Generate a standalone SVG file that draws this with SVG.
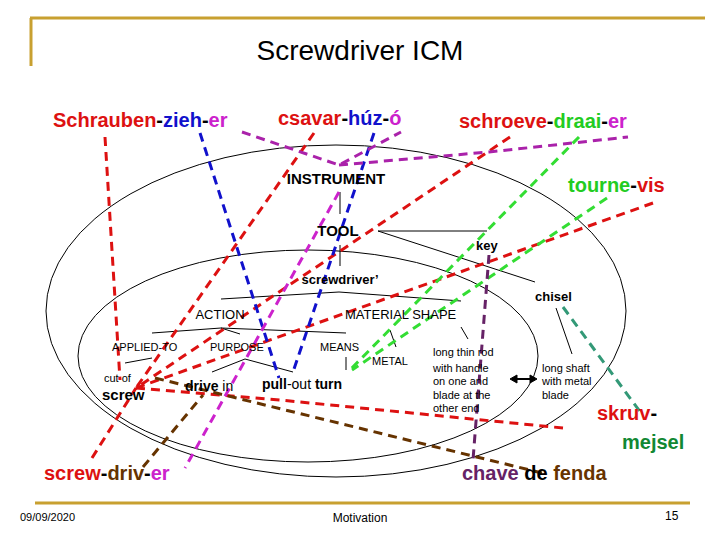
<svg xmlns="http://www.w3.org/2000/svg" width="720" height="540" viewBox="0 0 720 540">
<style>
text{font-family:"Liberation Sans",Arial,sans-serif}
.w{font-size:20px;font-weight:bold}
.n{font-size:13px;fill:#000}
.b{font-size:15px;font-weight:bold;fill:#000}
.s{font-size:11px;fill:#000}
.t{stroke:#000;stroke-width:1;fill:none}
.d{fill:none;stroke-width:3;stroke-dasharray:9 6}
.R{fill:#dd1111}.B{fill:#1111cc}.M{fill:#cc22cc}.G{fill:#22cc22}.DG{fill:#118833}.P{fill:#662266}.BR{fill:#663300}.K{fill:#000}
</style>
<rect width="720" height="540" fill="#fff"/>
<g id="frame" stroke="#c8a030" stroke-width="3">
<line x1="30" y1="18" x2="705" y2="18"/><line x1="31" y1="18" x2="31" y2="66"/><line x1="35" y1="503" x2="690" y2="503"/>
</g>
<text x="360" y="60" font-size="28" text-anchor="middle">Screwdriver ICM</text>
<g id="ellipses" class="t"><ellipse cx="336" cy="311" rx="290" ry="166"/><ellipse cx="308" cy="356" rx="230" ry="106"/></g>
<g id="tree" class="t">
<line x1="340" y1="192" x2="340" y2="214"/><line x1="378" y1="231" x2="487" y2="231"/><line x1="378" y1="231" x2="535" y2="282"/>
<line x1="340" y1="245" x2="340" y2="266"/>
<polyline points="221,299 339,292 461,301"/>
<polyline points="152,333 221,328 346,333"/><line x1="221" y1="328" x2="240" y2="334"/>
<line x1="390" y1="330" x2="396" y2="347"/><line x1="461" y1="327" x2="468" y2="339"/>
<line x1="125" y1="363" x2="152" y2="358"/>
<polyline points="212,372 245,359 293,372"/>
<line x1="346" y1="357" x2="346" y2="370"/>
<line x1="556" y1="308" x2="572" y2="354"/>
<line x1="514" y1="379" x2="533" y2="379" stroke-width="2"/>
<polygon points="510,379 517,375 517,383" fill="#000"/><polygon points="537,379 530,375 530,383" fill="#000"/>
</g>
<g id="connectors" class="d">
<polyline stroke="#dd1111" points="105,137 120,380"/>
<line stroke="#dd1111" x1="92" y1="458" x2="136" y2="388"/>
<line stroke="#dd1111" x1="314" y1="133" x2="136" y2="388"/>
<line stroke="#dd1111" x1="510" y1="137" x2="136" y2="388"/>
<line stroke="#dd1111" x1="653" y1="203" x2="136" y2="388"/>
<polyline stroke="#dd1111" points="136,388 280,400 563,428"/>
<line stroke="#1111cc" x1="200" y1="133" x2="279" y2="378"/>
<line stroke="#1111cc" x1="374" y1="133" x2="293" y2="372"/>
<polyline stroke="#aa22aa" points="242,132 339,165 401,132"/>
<polyline stroke="#aa22aa" points="339,165 489,152 628,137"/>
<line stroke="#cc22cc" x1="339" y1="192" x2="185" y2="468"/>
<line stroke="#33dd33" x1="579" y1="137" x2="348" y2="372"/>
<line stroke="#33dd33" x1="607" y1="198" x2="352" y2="370"/>
<line stroke="#339977" x1="563" y1="307" x2="641" y2="413"/>
<line stroke="#662266" x1="489" y1="255" x2="473" y2="460"/>
<line stroke="#663300" x1="155" y1="378" x2="542" y2="473"/>
<line stroke="#663300" x1="143" y1="467" x2="203" y2="395"/>
</g>
<g id="words" class="w">
<text x="53" y="127"><tspan class="R">Schrauben</tspan><tspan class="K">-</tspan><tspan class="B">zieh</tspan><tspan class="K">-</tspan><tspan class="M">er</tspan></text>
<text x="278" y="125"><tspan class="R">csavar</tspan><tspan class="K">-</tspan><tspan class="B">húz</tspan><tspan class="K">-</tspan><tspan class="M">ó</tspan></text>
<text x="459" y="128"><tspan class="R">schroeve</tspan><tspan class="K">-</tspan><tspan class="G">draai</tspan><tspan class="K">-</tspan><tspan class="M">er</tspan></text>
<text x="568" y="192"><tspan class="G">tourne</tspan><tspan class="K">-</tspan><tspan class="R">vis</tspan></text>
<text x="597" y="420"><tspan class="R">skruv</tspan><tspan class="K">-</tspan></text>
<text x="622" y="449" class="DG">mejsel</text>
<text x="462" y="480"><tspan class="P">chave</tspan> <tspan class="K">de</tspan> <tspan class="BR">fenda</tspan></text>
<text x="44" y="480"><tspan class="R">screw</tspan><tspan class="K">-</tspan><tspan class="BR">driv</tspan><tspan class="K">-</tspan><tspan class="M">er</tspan></text>
</g>
<g id="nodes">
<text id="instrument" class="b" x="336" y="184" text-anchor="middle" font-size="17">INSTRUMENT</text>
<text id="tool" class="b" x="338" y="236" text-anchor="middle">TOOL</text>
<text id="key" class="n" x="476" y="250" font-weight="bold">key</text>
<text id="screwdriver" class="n" x="340" y="284" text-anchor="middle" font-weight="bold">screwdriver’</text>
<text id="chisel" class="n" x="535" y="301" font-weight="bold">chisel</text>
<text id="action" class="n" x="220" y="319" text-anchor="middle">ACTION</text>
<text id="material" class="n" x="345" y="319">MATERIAL SHAPE</text>
<text id="applied" class="s" font-size="12" x="112" y="351">APPLIED-TO</text>
<text id="purpose" class="s" font-size="12" x="210" y="351">PURPOSE</text>
<text id="means" class="s" font-size="12" x="320" y="351">MEANS</text>
<text id="metal" class="s" font-size="12" x="372" y="365">METAL</text>
<text id="cutof" class="s" font-size="12" x="104" y="382">cut of</text>
<text id="screw" class="b" font-size="14" x="102" y="400">screw</text>
<text id="drive" x="185" y="391" font-size="14"><tspan font-weight="bold">drive</tspan> in</text>
<text id="pullout" x="262" y="389" font-size="14"><tspan font-weight="bold">pull</tspan>-out <tspan font-weight="bold">turn</tspan></text>
<text id="rod" class="s"><tspan x="433" y="356">long thin rod</tspan><tspan x="433" y="372">with handle</tspan><tspan x="433" y="385">on one and</tspan><tspan x="433" y="399">blade at the</tspan><tspan x="433" y="412">other end</tspan></text>
<text id="shaft" class="s"><tspan x="542" y="372">long shaft</tspan><tspan x="542" y="385">with metal</tspan><tspan x="542" y="399">blade</tspan></text>
</g>
<text x="20" y="521" font-size="11">09/09/2020</text>
<text x="360" y="522" font-size="12" text-anchor="middle" font-family="Liberation Serif">Motivation</text>
<text x="665" y="520" font-size="12" font-family="Liberation Serif">15</text>
</svg>
